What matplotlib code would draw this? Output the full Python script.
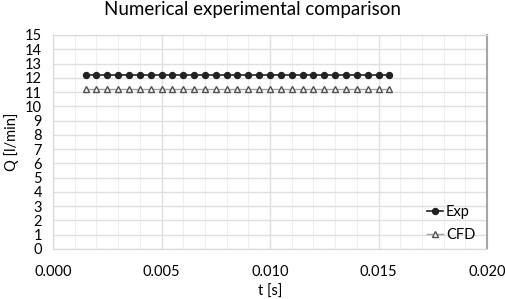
import matplotlib.pyplot as plt
from matplotlib.ticker import MultipleLocator

plt.rcParams['font.family'] = ['Lato', 'DejaVu Sans']

# datos
t = [0.0015, 0.0020, 0.0025, 0.0030, 0.0035, 0.0040, 0.0045, 0.0050,
     0.0055, 0.0060, 0.0065, 0.0070, 0.0075, 0.0080, 0.0085, 0.0090,
     0.0095, 0.0100, 0.0105, 0.0110, 0.0115, 0.0120, 0.0125, 0.0130,
     0.0135, 0.0140, 0.0145, 0.0150, 0.0155]
q_exp = [12.2] * 29
q_cfd = [11.2] * 29

fig = plt.figure(figsize=(5.05, 2.99), dpi=100)
ax = fig.add_axes([53/505, 1 - 249/299, 434/505, 214/299])

ax.plot(t, q_exp, color='#222222', marker='o', markersize=4.3, lw=1.2, label='Exp')
ax.plot(t, q_cfd, color='#a0a0a0', marker='^', markersize=4.3, lw=1.0,
        markerfacecolor='white', markeredgecolor='#505050', markeredgewidth=1.0,
        label='CFD')

ax.set_xlim(0, 0.02)
ax.set_ylim(0, 15)
ax.xaxis.set_major_locator(MultipleLocator(0.005))
ax.xaxis.set_minor_locator(MultipleLocator(0.001))
ax.yaxis.set_major_locator(MultipleLocator(1))
ax.xaxis.set_major_formatter(plt.FormatStrFormatter('%.3f'))

ax.grid(which='major', color='#e0e0e0', lw=1.0)
ax.grid(which='minor', axis='x', color='#efefef', lw=0.8)
ax.set_axisbelow(True)
ax.tick_params(which='both', length=0, labelsize=10.5)
ax.tick_params(axis='x', pad=11.5)
ax.tick_params(axis='y', pad=8)

for s in ['top', 'left', 'bottom']:
    ax.spines[s].set_color('#d9d9d9')
ax.spines['right'].set_color('#a6a6a6')
ax.spines['right'].set_linewidth(1.5)

ax.set_xlabel('t [s]', fontsize=10.5, labelpad=4)
ax.set_ylabel('Q [l/min]', fontsize=10.5, labelpad=4)
fig.suptitle('Numerical experimental comparison', fontsize=13.5, y=0.995)

ax.legend(loc='lower right', frameon=False, fontsize=10.5, handlelength=1.1,
          handletextpad=0.2, labelspacing=0.6, borderaxespad=0.1,
          bbox_to_anchor=(0.99, 0.0))

fig.savefig('out.png', dpi=100)
